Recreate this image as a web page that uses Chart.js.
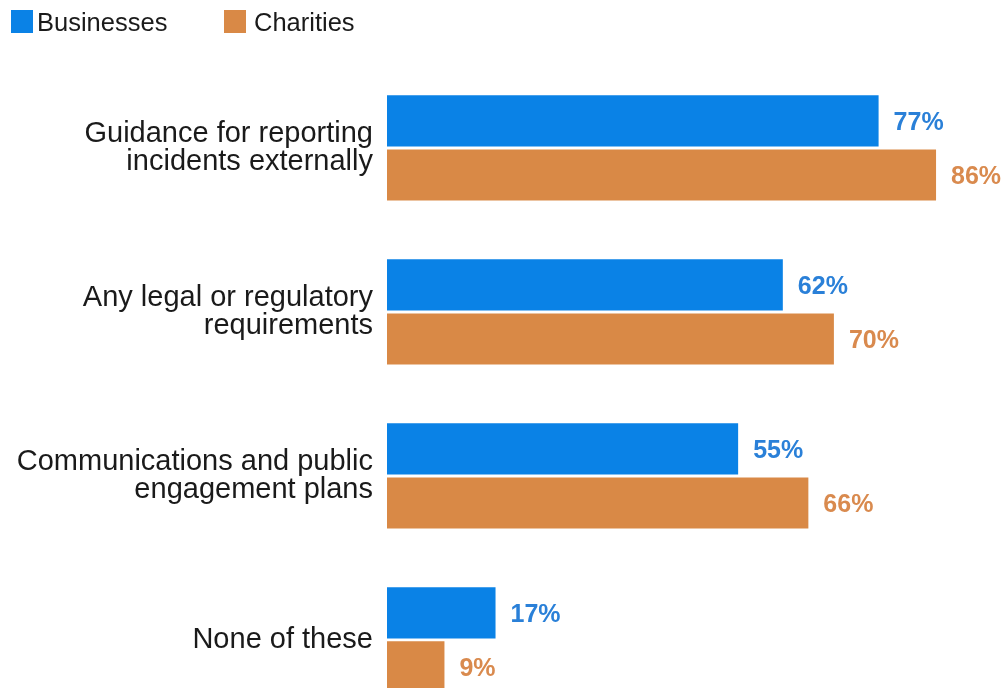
<!DOCTYPE html>
<html>
<head>
<meta charset="utf-8">
<script src="https://cdn.jsdelivr.net/npm/chart.js@4.4.1/dist/chart.umd.min.js"></script>
<style>
    html, body { margin: 0; padding: 0; background: #fff; overflow: hidden; }
    #wrap { position: relative; width: 1005px; height: 688px; overflow: hidden; }
    #reportingChart { position: absolute; left: 0; top: 0; }
    .legend-item { position: absolute; top: 10px; font-family: "Liberation Sans", Arial, sans-serif; font-size: 25.5px; color: #1a1a1a; line-height: 24px; white-space: nowrap; }
    .legend-item span { display: inline-block; width: 22px; height: 23px; vertical-align: top; }
</style>
</head>
<body>
<div id="wrap">
    <canvas id="reportingChart" width="1005" height="756"></canvas>
    <div id="legend"></div>
</div>
<script>
var categories = [
    ['Guidance for reporting', 'incidents externally'],
    ['Any legal or regulatory', 'requirements'],
    ['Communications and public', 'engagement plans'],
    'None of these'
];
var businesses = [77, 62, 55, 17];
var charities = [86, 70, 66, 9];

var seriesNames = ['Businesses', 'Charities'];
var seriesColors = ['#0a82e6', '#d98946'];
var labelColors = ['#2a80d8', '#d98a4e'];

// percent labels just past the end of each bar
var valueLabels = {
    id: 'valueLabels',
    afterDatasetsDraw: function (chart) {
        var ctx = chart.ctx;
        ctx.save();
        ctx.font = 'bold 25px "Liberation Sans", Arial, sans-serif';
        ctx.textAlign = 'left';
        ctx.textBaseline = 'middle';
        chart.data.datasets.forEach(function (ds, i) {
            var meta = chart.getDatasetMeta(i);
            ctx.fillStyle = labelColors[i];
            meta.data.forEach(function (bar, j) {
                ctx.fillText(ds.data[j] + '%', bar.x + 15, bar.y + 2);
            });
        });
        ctx.restore();
    }
};

var ctx = document.getElementById('reportingChart');
var reportingChart = new Chart(ctx, {
    type: 'bar',
    data: {
        labels: categories,
        datasets: [
            {
                label: seriesNames[0],
                backgroundColor: seriesColors[0],
                data: businesses
            },
            {
                label: seriesNames[1],
                backgroundColor: seriesColors[1],
                data: charities
            }]
    },
    options: {
        indexAxis: 'y',
        responsive: false,
        animation: false,
        categoryPercentage: 0.66,
        barPercentage: 0.945,
        layout: { padding: { top: 66, bottom: 8, left: 0, right: 0 } },
        plugins: {
            legend: { display: false },
            tooltip: { enabled: false }
        },
        scales: {
            x: {
                display: false,
                min: 0,
                max: 96.8
            },
            y: {
                grid: { display: false },
                border: { display: false },
                afterFit: function (scale) { scale.width = 387; },
                ticks: {
                    padding: 6,
                    color: '#1a1a1a',
                    font: { family: '"Liberation Sans", Arial, sans-serif', size: 29, lineHeight: 0.97 }
                }
            }
        }
    },
    plugins: [valueLabels]
});

// legend above the plot
var legend = document.getElementById('legend');
var legendLeft = [11, 224];
var legendGap = [4, 8];
reportingChart.data.datasets.forEach(function (ds, i) {
    var item = document.createElement('div');
    item.className = 'legend-item';
    item.style.left = legendLeft[i] + 'px';
    item.innerHTML = '<span style="background:' + ds.backgroundColor + ';margin-right:' + legendGap[i] + 'px"></span>' + ds.label;
    legend.appendChild(item);
});
</script>
</body>
</html>
